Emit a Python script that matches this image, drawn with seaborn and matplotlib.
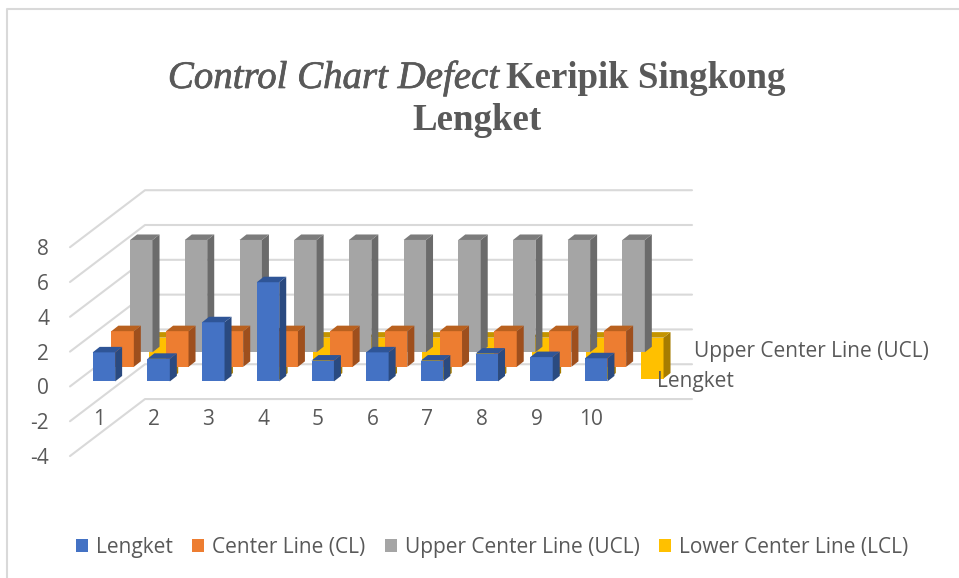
import matplotlib
matplotlib.use("Agg")
import matplotlib.pyplot as plt
import matplotlib.patheffects as pe
import seaborn as sns
import pandas as pd
from matplotlib.patches import Polygon
from matplotlib.transforms import Affine2D

samples = ["1", "2", "3", "4", "5", "6", "7", "8", "9", "10"]
lengket = [1.67, 1.3, 3.4, 5.7, 1.2, 1.67, 1.2, 1.6, 1.4, 1.33]
center_line = [2.05] * 10
upper_line = [6.45] * 10
lower_line = [-2.35] * 10
y_ticks = [-4, -2, 0, 2, 4, 6, 8]
y_labels = ["-4", "-2", "0", "2", "4", "6", "8"]

df = pd.DataFrame({"sample": samples, "Lengket": lengket, "Center Line (CL)": center_line,
                   "Upper Center Line (UCL)": upper_line, "Lower Center Line (LCL)": lower_line})

sns.set_style("white")
plt.rcParams["font.family"] = ["Open Sans", "DejaVu Sans"]
TXT = "#595959"
GRID = "#D9D9D9"
W, H = 959, 578

fig = plt.figure(figsize=(W / 100, H / 100), dpi=100)
# front plane of the chart, placed in pixels
ax = fig.add_axes([70 / W, (H - 451.4) / H, 547 / W, 209.2 / H])

# colour front/top/side, depth slot behind the first row
styles = {
    "Lengket": ("#4472C4", "#2F5597", "#2A4A80", 0),
    "Center Line (CL)": ("#ED7D31", "#B9611F", "#9E4F1D", 1),
    "Upper Center Line (UCL)": ("#A5A5A5", "#7C7C7C", "#6B6B6B", 2),
    "Lower Center Line (LCL)": ("#FFC000", "#C49400", "#A67C00", 3),
}
STEP_X, STEP_Y = 18.7, 14.6
BAR_DX, BAR_DY = 7, 5.5

ax.set_xlim(-0.62, 9.38)
ax.set_ylim(-4.02, 8)


def shifted(dx, dy):
    return ax.transData + Affine2D().translate(dx, dy)


for name, (front, top, side, slot) in styles.items():
    z = 10 - slot
    sns.barplot(data=df, x="sample", y=name, color=front, saturation=1, width=0.41,
                label=name, zorder=z, edgecolor="none", linewidth=0, ax=ax)
    ax.set_xlim(-0.62, 9.38)
    ax.set_ylim(-4.02, 8)
    off = (slot * STEP_X, slot * STEP_Y)
    for bar in ax.containers[-1]:
        x0, x1 = bar.get_x(), bar.get_x() + bar.get_width()
        y0, y1 = bar.get_y(), bar.get_y() + bar.get_height()
        y_up = max(y0, y1)
        y_lo = min(y0, y1)
        bar.set_transform(shifted(*off))
        bar.set_clip_on(False)
        # side and top faces, slanted back by a fixed pixel depth
        for a, b, col in [((x1, y_lo), (x1, y_up), side), ((x1, y_up), (x0, y_up), top)]:
            pa, pb = ax.transData.transform(a), ax.transData.transform(b)
            back_b = ax.transData.inverted().transform((pb[0] + BAR_DX, pb[1] + BAR_DY))
            back_a = ax.transData.inverted().transform((pa[0] + BAR_DX, pa[1] + BAR_DY))
            ax.add_patch(Polygon([a, b, back_b, back_a], closed=True, facecolor=col, edgecolor="none",
                                 transform=shifted(*off), clip_on=False, zorder=z))

ax.set_xlabel("")
ax.set_ylabel("")
ax.set_yticks(y_ticks, y_labels)
ax.grid(False)
sns.despine(ax=ax, left=True, bottom=True)
ax.patch.set_alpha(0)
ax.tick_params(axis="both", length=0, labelsize=15, labelcolor=TXT)
ax.tick_params(axis="y", pad=15)
for lab in ax.get_yticklabels():
    lab.set_transform(lab.get_transform() + Affine2D().translate(0, -5))
for lab in ax.get_xticklabels():
    lab.set_transform(lab.get_transform() + Affine2D().translate(-5, 47))

# walls: one line per tick, from the front edge back and along the rear wall
xa, xb = ax.get_xlim()
for v in y_ticks:
    pf = ax.transData.transform((xa, v))
    pr = ax.transData.transform((xb, v))
    xs = [pf[0], pf[0] + 75, pr[0] + 75]
    ys = [pf[1] - 5, pf[1] + 52, pr[1] + 52]
    fig.add_artist(plt.Line2D(xs, ys, transform=None, color=GRID, lw=1.5, zorder=0))

# depth axis labels
fig.text(694 / W, 1 - 351 / H, "Upper Center Line (UCL)", color=TXT, fontsize=15, va="center")
fig.text(657 / W, 1 - 381 / H, "Lengket", color=TXT, fontsize=15, va="center", zorder=20)

# title, one line mixes italic and bold
fig.text(499 / W, 1 - 88 / H, "Control Chart Defect", family="Liberation Serif", style="italic",
         fontsize=28, color=TXT, ha="right", va="baseline",
         path_effects=[pe.withStroke(linewidth=0.5, foreground=TXT)])
fig.text(506 / W, 1 - 88 / H, "Keripik Singkong", family="Liberation Serif", weight="bold",
         fontsize=26.6, color=TXT, ha="left", va="baseline")
fig.text(477 / W, 1 - 130 / H, "Lengket", family="Liberation Serif", weight="bold",
         fontsize=26.6, color=TXT, ha="center", va="baseline")

handles, labels = ax.get_legend_handles_labels()
if ax.get_legend():
    ax.get_legend().remove()
fig.legend(handles, labels, loc="center", bbox_to_anchor=(492 / W, 1 - 547 / H), ncol=4, frameon=False,
           fontsize=15, labelcolor=TXT, handlelength=0.58, handleheight=0.58, handletextpad=0.38,
           columnspacing=0.92)

# chart frame: only the top and left edges show in the crop
fig.add_artist(plt.Line2D([7, 7, W], [0, H - 9, H - 9], transform=None, color=GRID, lw=1.5, zorder=0))

fig.savefig("out.png", dpi=100)
